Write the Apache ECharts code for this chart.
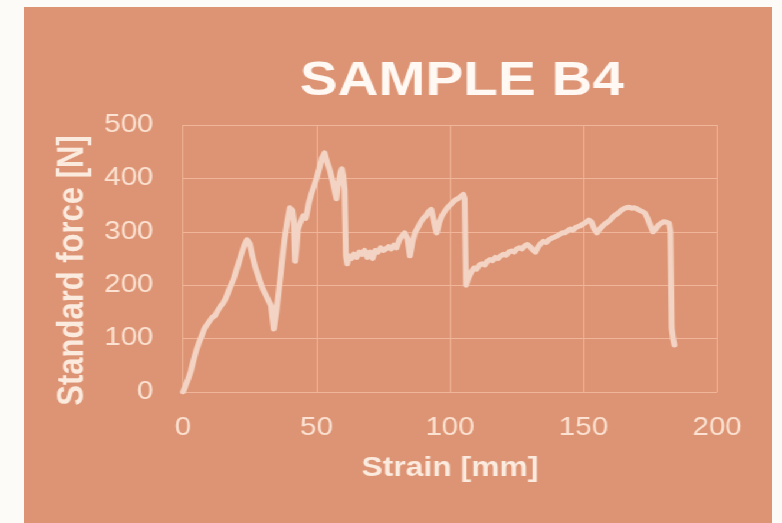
<!DOCTYPE html>
<html>
<head>
<meta charset="utf-8">
<script src="https://cdn.jsdelivr.net/npm/echarts@6/dist/echarts.min.js"></script>
<style>
  html, body { margin: 0; padding: 0; background: #fdfbf8; width: 782px; height: 523px; overflow: hidden; }
  #chart { position: absolute; left: 24px; top: 7px; width: 634px; height: 516px;
           transform: scaleX(1.18); transform-origin: 0 0; background: #dd9474; }
</style>
</head>
<body>
<div id="chart"></div>
<script>
const titleText = "SAMPLE B4";
const xName = "Strain [mm]";
const yName = "Standard force [N]";
const xTicks = [0, 50, 100, 150, 200];
const yTicks = [0, 100, 200, 300, 400, 500];

const strain = [
  0,1,2,3,4,5,6,7,8,9,10,11,12,13,14,15,16,17,18,19,20,21,22,23,24,25,26,27,28,29,30,31,32,33,33.5,34,
  35,36,37,38,39,40,41,41.5,42,42.5,43,44,45,46,47,48,49,50,51,52,53,54,55,56,57,57.5,58,59,59.5,60,60.5,
  61,61.5,62,63,64,65,66,67,68,69,70,71,72,73,74,75,76,77,78,79,80,81,82,83,84,85,86,87,88,89,90,91,92,93,
  94,95,96,97,98,99,100,101,102,103,104,105,105.5,
  106,107,108,109,110,111,112,113,114,115,116,117,118,119,120,121,122,123,124,125,126,127,128,129,130,131,
  132,133,134,135,136,137,138,139,140,141,142,143,144,145,146,147,148,149,150,151,152,153,154,155,156,157,
  158,159,160,161,162,163,164,165,166,167,168,169,170,171,172,173,174,175,176,177,178,179,180,181,182,182.5,
  183,183.5,184
];
const force = [
  0,12,25,40,60,78,92,105,118,126,133,140,143,152,160,166,175,188,200,212,228,243,260,275,285,278,255,235,220,205,192,182,172,162,140,118,
  150,195,240,285,318,345,340,320,245,270,305,318,330,325,352,370,385,400,418,438,448,430,415,395,372,362,385,412,418,405,380,
  255,240,255,250,258,252,262,258,265,252,262,250,265,262,270,265,268,272,268,275,270,285,292,298,288,255,282,300,308,318,325,330,338,342,
  318,298,318,330,338,345,350,355,360,362,366,370,362,
  200,215,225,232,230,238,240,238,245,248,246,252,250,255,258,256,262,264,262,268,270,268,274,276,272,266,
  262,272,278,282,280,285,288,290,292,295,298,298,302,305,303,308,310,312,315,318,322,318,305,298,305,310,
  315,318,322,328,332,335,340,343,345,346,344,345,343,340,338,335,325,312,300,305,312,316,319,318,316,300,
  120,100,88
];

const points = strain.map((s, i) => [s, force[i]]);

const chart = echarts.init(document.getElementById('chart'), null, { renderer: 'canvas' });
const font = "'Liberation Sans', Arial, sans-serif";
const labelColor = '#fbe2d2';
const gridColor = '#f1b699';

chart.setOption({
  animation: false,
  backgroundColor: '#dd9474',
  title: {
    text: titleText,
    left: 366,
    top: 46,
    textAlign: 'center',
    textStyle: { fontFamily: font, fontSize: 48, fontWeight: 'bold', color: '#fff8f3' }
  },
  grid: { left: 134.7, right: 46.6, top: 118, bottom: 131, containLabel: false },
  xAxis: {
    type: 'value',
    min: xTicks[0], max: xTicks[xTicks.length - 1], interval: xTicks[1] - xTicks[0],
    name: xName, nameLocation: 'middle', nameGap: 63,
    nameTextStyle: { fontFamily: font, fontSize: 27, fontWeight: 'bold', color: '#fbeade' },
    axisLine: { show: false }, axisTick: { show: false },
    axisLabel: { fontFamily: font, fontSize: 25, color: labelColor, margin: 24 },
    splitLine: { show: true, lineStyle: { color: gridColor, width: 1 } }
  },
  yAxis: {
    type: 'value',
    min: yTicks[0], max: yTicks[yTicks.length - 1], interval: yTicks[1] - yTicks[0],
    name: yName, nameLocation: 'middle', nameGap: 74, nameRotate: 90,
    nameTextStyle: { fontFamily: font, fontSize: 31, fontWeight: 'bold', color: '#fbeade', padding: [0, 24, 0, 0] },
    axisLine: { show: false }, axisTick: { show: false },
    axisLabel: { fontFamily: font, fontSize: 25, color: labelColor, margin: 25 },
    splitLine: { show: true, lineStyle: { color: gridColor, width: 1 } }
  },
  series: [{
    type: 'line',
    data: points,
    showSymbol: false,
    lineStyle: { color: '#f3d3c3', width: 5, join: 'round', cap: 'round' }
  }]
});
</script>
</body>
</html>
